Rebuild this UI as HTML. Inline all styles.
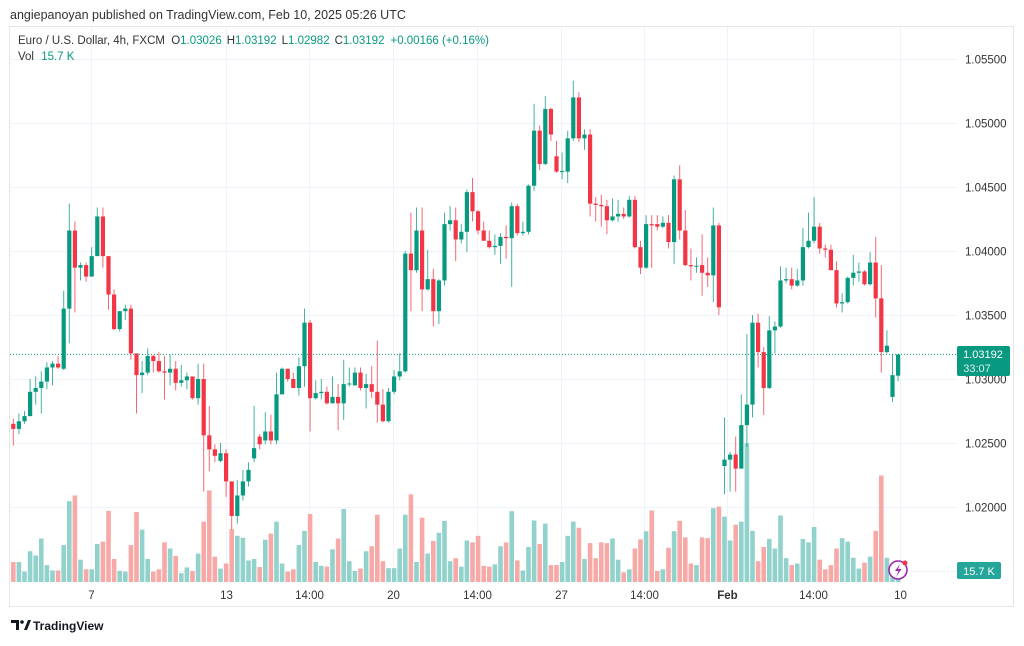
<!DOCTYPE html>
<html><head><meta charset="utf-8">
<style>
html,body{margin:0;padding:0;background:#fff;}
body{width:1024px;height:641px;overflow:hidden;font-family:"Liberation Sans",sans-serif;}
svg text{font-family:"Liberation Sans",sans-serif;}
</style></head>
<body>
<svg id="chart" width="1024" height="641" viewBox="0 0 1024 641" xmlns="http://www.w3.org/2000/svg">
<rect x="0" y="0" width="1024" height="641" fill="#fff"/>
<text x="10" y="19" font-size="12.5" fill="#333">angiepanoyan published on TradingView.com, Feb 10, 2025 05:26 UTC</text>
<rect x="9.5" y="26.5" width="1004" height="580" fill="none" stroke="#e6e6e6"/>
<g id="grid"></g>
<g id="vol"></g>
<g id="candles"></g>
<line id="lastLine" x1="10" x2="957" stroke="#089981" stroke-width="1" stroke-dasharray="1,2"/>
<g id="yaxis"></g>
<g id="xaxis"></g>
<g>
<text x="18" y="44" font-size="11.5" fill="#333">Euro / U.S. Dollar, 4h, FXCM <tspan dx="3">O</tspan><tspan fill="#089981">1.03026</tspan><tspan dx="5">H</tspan><tspan fill="#089981">1.03192</tspan><tspan dx="5">L</tspan><tspan fill="#089981">1.02982</tspan><tspan dx="5">C</tspan><tspan fill="#089981">1.03192</tspan><tspan dx="6" fill="#089981">+0.00166 (+0.16%)</tspan></text>
<text x="18" y="60" font-size="11.5" fill="#333">Vol <tspan dx="4" fill="#089981">15.7 K</tspan></text>
</g>
<g>
<rect x="957" y="346" width="53" height="30" rx="2" fill="#089981"/>
<text x="983" y="358" font-size="11" fill="#fff" text-anchor="middle">1.03192</text>
<text x="977" y="372" font-size="11" fill="#fff" text-anchor="middle" opacity="0.85">33:07</text>
</g>
<g>
<rect x="957" y="562" width="44" height="17" rx="2" fill="#26a69a"/>
<text x="979" y="575" font-size="11" fill="#fff" text-anchor="middle">15.7 K</text>
</g>
<g>
<circle cx="898" cy="570" r="9" fill="#fff" stroke="#9c27b0" stroke-width="1.6"/>
<path d="M900 564 L895 571 L898.5 571 L896 577 L901.5 569 L898 569 Z" fill="#9c27b0"/>
<circle cx="905" cy="563" r="2.5" fill="#f23645"/>
</g>
<g>
<path d="M11 620 h8 v10 h-3 v-7 h-5 z" fill="#131722"/>
<circle cx="22" cy="622" r="1.8" fill="#131722"/>
<path d="M24 630 l4 -10 h3 l-4 10 z" fill="#131722"/>
<text x="33" y="630" font-size="12" font-weight="bold" fill="#131722">TradingView</text>
</g>
</svg>
<script>
const opens=[1.0265,1.0261,1.0267,1.0271,1.0290,1.0293,1.0298,1.0309,1.0312,1.0308,
1.0355,1.0416,1.0387,1.0389,1.0380,1.0396,1.0427,1.0396,1.0366,1.0339,
1.0353,1.0355,1.0320,1.0303,1.0305,1.0318,1.0314,1.0306,1.0305,1.0308,
1.0297,1.0299,1.0302,1.0285,1.0300,1.0256,1.0245,1.0236,1.0242,1.0220,
1.0193,1.0209,1.0220,1.0238,1.0255,1.0252,1.0259,1.0252,1.0288,1.0308,
1.0300,1.0293,1.0310,1.0344,1.0285,1.0289,1.0290,1.0281,1.0286,1.0281,
1.0296,1.0295,1.0305,1.0293,1.0296,1.0290,1.0280,1.0267,1.0290,1.0302,
1.0306,1.0398,1.0385,1.0416,1.0370,1.0378,1.0353,1.0377,1.0421,1.0424,
1.0409,1.0415,1.0446,1.0431,1.0416,1.0408,1.0403,1.0404,1.0411,1.0410,
1.0435,1.0414,1.0415,1.0451,1.0494,1.0468,1.0511,1.0474,1.0462,1.0462,
1.0488,1.0520,1.0488,1.0491,1.0437,1.0436,1.0435,1.0424,1.0427,1.0429,
1.0427,1.0440,1.0403,1.0387,1.0421,1.0421,1.0419,1.0422,1.0407,1.0456,
1.0416,1.0389,1.0388,1.0389,1.0383,1.0381,1.0420,1.0232,1.0237,1.0241,
1.0230,1.0264,1.0280,1.0344,1.0321,1.0293,1.0338,1.0341,1.0377,1.0378,
1.0373,1.0377,1.0403,1.0408,1.0419,1.0402,1.0401,1.0385,1.0359,1.0360,
1.0379,1.0383,1.0384,1.0374,1.0391,1.0363,1.0321,1.0286,1.03026];
const highs=[1.0269,1.0273,1.0275,1.0300,1.0302,1.0306,1.0313,1.0314,1.0318,1.0369,
1.0437,1.0423,1.0391,1.0391,1.0403,1.0434,1.0434,1.0396,1.0370,1.0353,
1.0358,1.0358,1.0320,1.0314,1.0324,1.0319,1.0321,1.0318,1.0319,1.0314,
1.0311,1.0305,1.0302,1.0312,1.0312,1.0279,1.0249,1.0250,1.0245,1.0220,
1.0221,1.0229,1.0235,1.0279,1.0257,1.0274,1.0272,1.0305,1.0309,1.0308,
1.0305,1.0317,1.0355,1.0346,1.0299,1.0300,1.0294,1.0302,1.0296,1.0315,
1.0309,1.0309,1.0309,1.0304,1.0310,1.0330,1.0292,1.0293,1.0307,1.0320,
1.0400,1.0430,1.0434,1.0434,1.0401,1.0386,1.0378,1.0430,1.0435,1.0434,
1.0421,1.0448,1.0457,1.0432,1.0423,1.0416,1.0413,1.0414,1.0420,1.0438,
1.0437,1.0423,1.0452,1.0515,1.0498,1.0521,1.0512,1.0486,1.0477,1.0494,
1.0533,1.0524,1.0495,1.0495,1.0442,1.0444,1.0440,1.0441,1.0440,1.0434,
1.0443,1.0443,1.0408,1.0428,1.0428,1.0428,1.0427,1.0428,1.0459,1.0467,
1.0432,1.0402,1.0395,1.0413,1.0395,1.0434,1.0422,1.0270,1.0243,1.0255,
1.0288,1.0335,1.0350,1.0351,1.0325,1.0349,1.0345,1.0388,1.0387,1.0387,
1.0386,1.0418,1.0430,1.0442,1.0422,1.0405,1.0405,1.0392,1.0367,1.0380,
1.0397,1.0391,1.0385,1.0399,1.0411,1.0389,1.0338,1.0319,1.03192];
const lows=[1.0248,1.0257,1.0265,1.0271,1.0280,1.0273,1.0292,1.0295,1.0308,1.0307,
1.0328,1.0352,1.0377,1.0376,1.0380,1.0396,1.0387,1.0354,1.0338,1.0337,
1.0346,1.0315,1.0273,1.0289,1.0303,1.0305,1.0305,1.0284,1.0295,1.0291,
1.0294,1.0292,1.0284,1.0280,1.0212,1.0228,1.0235,1.0235,1.0208,1.0182,
1.0187,1.0205,1.0216,1.0235,1.0245,1.0249,1.0249,1.0249,1.0288,1.0298,
1.0293,1.0287,1.0294,1.0259,1.0284,1.0284,1.0280,1.0281,1.0260,1.0268,
1.0294,1.0295,1.0291,1.0277,1.0285,1.0266,1.0266,1.0266,1.0288,1.0299,
1.0305,1.0353,1.0383,1.0353,1.0369,1.0341,1.0343,1.0373,1.0416,1.0392,
1.0406,1.0399,1.0423,1.0413,1.0408,1.0402,1.0397,1.0390,1.0394,1.0372,
1.0412,1.0412,1.0413,1.0447,1.0463,1.0467,1.0486,1.0461,1.0456,1.0453,
1.0486,1.0485,1.0479,1.0427,1.0423,1.0419,1.0413,1.0423,1.0423,1.0425,
1.0426,1.0402,1.0382,1.0386,1.0387,1.0416,1.0418,1.0402,1.0390,1.0409,
1.0388,1.0377,1.0383,1.0365,1.0372,1.0360,1.0350,1.0210,1.0212,1.0212,
1.0230,1.0247,1.0270,1.0309,1.0272,1.0292,1.0320,1.0340,1.0375,1.0370,
1.0372,1.0373,1.0402,1.0406,1.0398,1.0395,1.0385,1.0356,1.0352,1.0359,
1.0373,1.0376,1.0373,1.0373,1.0348,1.0305,1.0320,1.0282,1.02982];
const closes=[1.0261,1.0267,1.0271,1.0290,1.0293,1.0298,1.0309,1.0312,1.0309,1.0355,
1.0416,1.0387,1.0389,1.0380,1.0396,1.0427,1.0396,1.0366,1.0339,1.0353,
1.0355,1.0320,1.0303,1.0305,1.0318,1.0314,1.0306,1.0305,1.0308,1.0297,
1.0299,1.0302,1.0285,1.0300,1.0256,1.0245,1.0240,1.0242,1.0220,1.0193,
1.0209,1.0220,1.0229,1.0246,1.0249,1.0259,1.0252,1.0288,1.0308,1.0300,
1.0293,1.0310,1.0344,1.0285,1.0289,1.0290,1.0281,1.0286,1.0281,1.0296,
1.02965,1.0305,1.0293,1.0296,1.0290,1.0280,1.0267,1.0290,1.0302,1.0306,
1.0398,1.0385,1.0416,1.0370,1.0378,1.0353,1.0377,1.0421,1.0424,1.0409,
1.0415,1.0446,1.0431,1.0416,1.0408,1.0403,1.0404,1.0411,1.0410,1.0435,
1.0414,1.0415,1.0451,1.0494,1.0468,1.0511,1.0491,1.0462,1.04625,1.0488,
1.0520,1.0488,1.0491,1.0437,1.0436,1.0435,1.0424,1.0427,1.0429,1.0427,
1.0440,1.0403,1.0387,1.0421,1.0420,1.0419,1.0422,1.0407,1.0456,1.0416,
1.0389,1.0388,1.03885,1.0383,1.0381,1.0420,1.0356,1.0237,1.0241,1.0230,
1.0264,1.0280,1.0344,1.0321,1.0293,1.0338,1.0341,1.0377,1.0378,1.0373,
1.0377,1.0403,1.0408,1.0419,1.0402,1.0401,1.0385,1.0359,1.0360,1.0379,
1.0383,1.0384,1.0374,1.0391,1.0363,1.0321,1.0326,1.0303,1.03192];
const volumes=[52,52,27,80,69,113,44,30,30,96,210,225,58,33,33,99,105,185,60,29,
27,96,182,136,60,27,33,103,87,68,23,38,29,74,157,238,66,35,48,137,
120,115,56,60,39,110,126,157,48,27,33,96,133,177,52,42,40,85,113,190,
54,29,35,80,93,175,54,36,36,87,175,228,52,167,74,107,128,159,54,62,
40,108,103,120,42,40,46,93,103,184,56,30,91,160,99,152,44,44,52,120,
157,141,60,101,62,103,101,113,58,25,33,87,111,132,186,29,33,89,132,159,
116,48,44,116,114,192,196,170,108,149,157,361,133,54,91,112,87,173,62,44,
48,112,103,143,58,33,44,87,114,105,63,35,50,66,133,277,63,26,15.7];
const priceTicks=[1.055,1.050,1.045,1.040,1.035,1.030,1.025,1.020,1.015];
const priceTickLabels=["1.05500","1.05000","1.04500","1.04000","1.03500","1.03000","1.02500","1.02000",""];
const timeTickIdx=[13.9,38,52.8,67.8,82.8,97.8,112.6,127.4,142.8,158.3];
const timeTickLabels=["7","13","14:00","20","14:00","27","14:00","Feb","14:00","10"];
const lastPrice=1.03192;

const NS="http://www.w3.org/2000/svg";
function xOf(i){return 13.3+5.6*i;}
function yOf(p){return 379-(p-1.03)*12800;}
function vH(v){return v/2.6;}
const VBASE=582;
function mk(tag,attrs,parent){const e=document.createElementNS(NS,tag);for(const k in attrs)e.setAttribute(k,attrs[k]);parent.appendChild(e);return e;}

const grid=document.getElementById('grid');
const yax=document.getElementById('yaxis');
priceTicks.forEach((p,k)=>{
  const y=Math.round(yOf(p))+0.5;
  const l=mk('line',{x1:10,x2:957,y1:y,y2:y,stroke:'#f0f3fa','stroke-width':1},grid);
  
  
  if(priceTickLabels[k]){
    const t=mk('text',{x:965,y:y+4,'font-size':11.5,fill:'#333'},yax);
    t.textContent=priceTickLabels[k];
    
    
  }
});
const xax=document.getElementById('xaxis');
timeTickIdx.forEach((ti,k)=>{
  const x=Math.round(xOf(ti))+0.5;
  const l=mk('line',{x1:x,x2:x,y1:27,y2:583,stroke:'#f0f3fa','stroke-width':1},grid);
  
  
  const t=mk('text',{x:x,y:599,'font-size':11.5,fill:'#333','text-anchor':'middle'},xax);
  if(timeTickLabels[k]==='Feb')t.setAttribute('font-weight','bold');
  t.textContent=timeTickLabels[k];
  
  
});

const volG=document.getElementById('vol');
const cG=document.getElementById('candles');
for(let i=0;i<opens.length;i++){
  const up=closes[i]>=opens[i];
  const x=xOf(i);
  const h=vH(volumes[i]);
  const vb=mk('rect',{x:x-2.3,y:VBASE-h,width:4.6,height:h,fill:up?'#92d2cc':'#f7a9a7'},volG);
  
  
  const col=up?'#089981':'#f23645';
  const hi=Math.max(highs[i],opens[i],closes[i]);
  const lo=Math.min(lows[i],opens[i],closes[i]);
  const g=mk('g',{},cG);
  
  
  mk('line',{x1:x,x2:x,y1:yOf(hi),y2:yOf(lo),stroke:col,'stroke-width':1,opacity:0.75},g);
  const top=yOf(Math.max(opens[i],closes[i]));
  const bh=Math.max(1,yOf(Math.min(opens[i],closes[i]))-top);
  mk('rect',{x:x-2.1,y:top,width:4.2,height:bh,fill:col},g);
}
const ly=yOf(lastPrice);
const ll=document.getElementById('lastLine');
ll.setAttribute('y1',ly);ll.setAttribute('y2',ly);
</script>
</body></html>
